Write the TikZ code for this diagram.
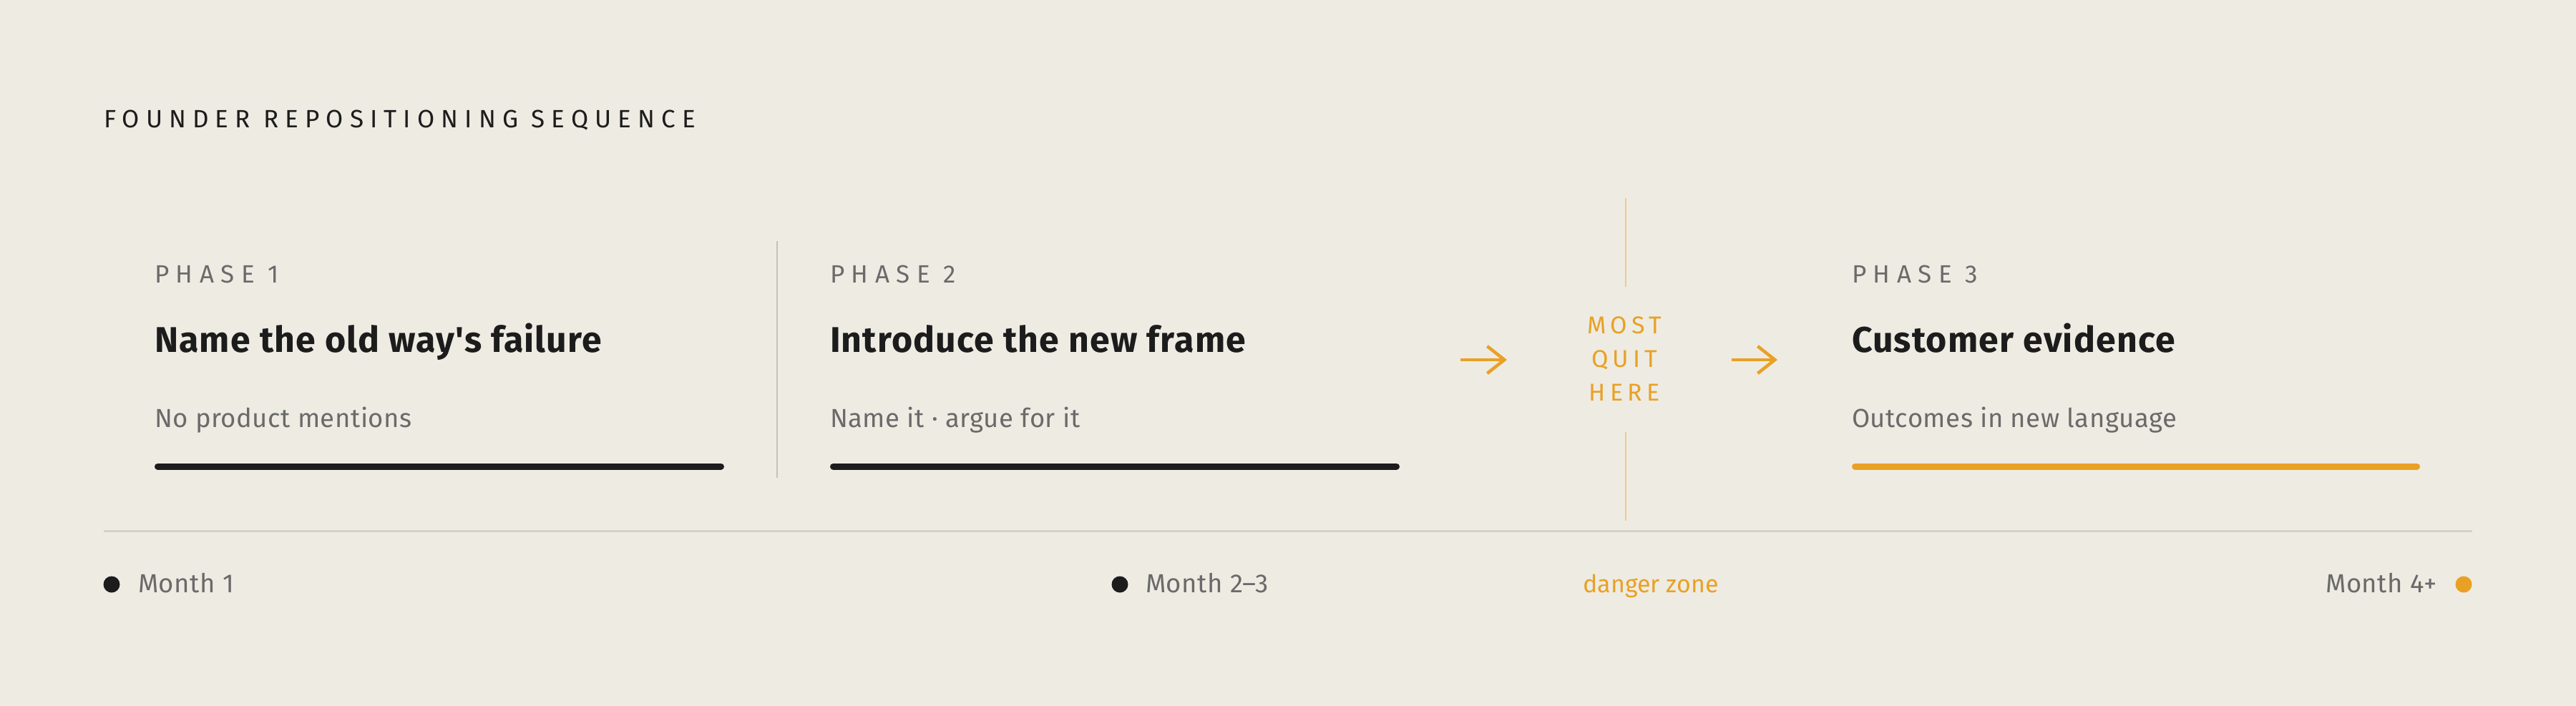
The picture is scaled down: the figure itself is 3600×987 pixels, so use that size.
\documentclass[tikz,border=0pt]{standalone}
\usepackage{fontspec}
\setmainfont{Fira Sans}
\newfontfamily\headfont[LetterSpace=2.4]{Fira Sans}
\newfontfamily\bodyfont[LetterSpace=1.5]{Fira Sans}
\newfontfamily\titlefont[LetterSpace=26]{Fira Sans}
\newfontfamily\kickerfont[LetterSpace=27]{Fira Sans}
\newfontfamily\quitfont[LetterSpace=18]{Fira Sans}
\usetikzlibrary{arrows.meta}
\definecolor{bg}{HTML}{EEEBE3}
\definecolor{ink}{HTML}{1C1C1C}
\definecolor{muted}{HTML}{6A6A6A}
\definecolor{accent}{HTML}{E8A125}
\definecolor{rulecol}{HTML}{D5D1C9}
\definecolor{sepcol}{HTML}{C6C2BA}
\definecolor{accentlight}{HTML}{EDCB90}
\begin{document}
\begin{tikzpicture}[x=1pt,y=-1pt,
  txt/.style={inner sep=0pt, outer sep=0pt, anchor=base west},
  headline/.style={txt, text=ink, font=\titlefont\fontsize{35}{40}\selectfont},
  kicker/.style={txt, text=muted, font=\kickerfont\fontsize{35}{40}\selectfont},
  heading/.style={txt, text=ink, font=\headfont\bfseries\fontsize{50}{58}\selectfont},
  subline/.style={txt, text=muted, font=\bodyfont\fontsize{36.5}{42}\selectfont},
  monthlabel/.style={txt, text=muted, font=\bodyfont\fontsize{36.5}{42}\selectfont},
  quit/.style={inner sep=0pt, outer sep=0pt, anchor=base, text=accent, font=\quitfont\fontsize{34}{40}\selectfont},
  bar/.style={line width=9pt, line cap=round},
  dot/.style={circle, inner sep=0pt, minimum size=23pt},
  flow/.style={draw=accent, line width=4.5pt, -{Straight Barb[length=24pt,width=38pt,line width=4.5pt]}},
]
\useasboundingbox (0,0) rectangle (3600,987);
\fill[bg] (0,0) rectangle (3600,987);

% title
\node[headline] (title) at (145,179) {FOUNDER REPOSITIONING SEQUENCE};

% phase 1
\node[kicker] (p1label) at (216,395) {PHASE 1};
\node[heading] (p1title) at (216,492) {Name the old way's failure};
\node[subline] (p1sub) at (216,597) {No product mentions};
\coordinate (p1barL) at (220.5,652);
\coordinate (p1barR) at (1007.5,652);
\draw[bar, draw=ink] (p1barL) -- (p1barR);

% separator
\coordinate (sepT) at (1086,337);
\coordinate (sepB) at (1086,668);
\draw[sepcol, line width=2.5pt] (sepT) -- (sepB);

% phase 2
\node[kicker] (p2label) at (1160,395) {PHASE 2};
\node[heading] (p2title) at (1160,492) {Introduce the new frame};
\node[subline] (p2sub) at (1160,597) {Name it · argue for it};
\coordinate (p2barL) at (1164.5,652);
\coordinate (p2barR) at (1951.5,652);
\draw[bar, draw=ink] (p2barL) -- (p2barR);

% danger zone
\coordinate (dzT1) at (2272,277);
\coordinate (dzB1) at (2272,401);
\coordinate (dzT2) at (2272,604);
\coordinate (dzB2) at (2272,728);
\draw[accentlight, line width=2.5pt] (dzT1) -- (dzB1);
\draw[accentlight, line width=2.5pt] (dzT2) -- (dzB2);
\node[quit] (most) at (2270,466) {MOST};
\node[quit] (quitw) at (2270,513) {QUIT};
\node[quit] (here) at (2270,560) {HERE};
\coordinate (a1s) at (2041,503);
\coordinate (a1e) at (2106,503);
\coordinate (a2s) at (2420,503);
\coordinate (a2e) at (2484,503);
\draw[flow] (a1s) -- (a1e);
\draw[flow] (a2s) -- (a2e);

% phase 3
\node[kicker] (p3label) at (2588,395) {PHASE 3};
\node[heading] (p3title) at (2588,492) {Customer evidence};
\node[subline] (p3sub) at (2588,597) {Outcomes in new language};
\coordinate (p3barL) at (2592.5,652);
\coordinate (p3barR) at (3377.5,652);
\draw[bar, draw=accent] (p3barL) -- (p3barR);

% timeline
\coordinate (tlL) at (145,742);
\coordinate (tlR) at (3455,742);
\draw[rulecol, line width=3pt] (tlL) -- (tlR);

\node[dot, fill=ink] (d1) at (156,817) {};
\node[monthlabel] (m1) at (193,828) {Month 1};
\node[dot, fill=ink] (d2) at (1565,817) {};
\node[monthlabel] (m2) at (1601,828) {Month 2–3};
\node[inner sep=0pt, outer sep=0pt, anchor=base, text=accent, font=\fontsize{34}{40}\selectfont] (dz) at (2307,828) {danger zone};
\node[monthlabel, anchor=base east] (m3) at (3406,828) {Month 4+};
\node[dot, fill=accent] (d3) at (3443,817) {};
\end{tikzpicture}
\end{document}
